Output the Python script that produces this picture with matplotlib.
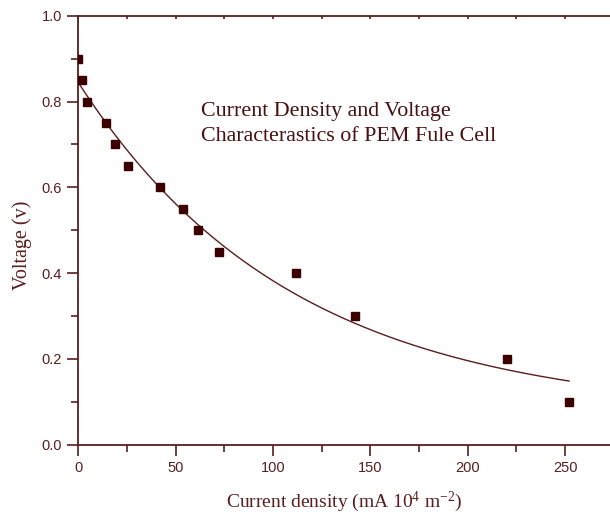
import numpy as np
import matplotlib.pyplot as plt
from matplotlib.ticker import MultipleLocator

plt.rcParams["mathtext.fontset"] = "custom"
plt.rcParams["mathtext.rm"] = "Liberation Serif"
plt.rcParams["mathtext.it"] = "Liberation Serif:italic"

# Measured points (current density, voltage)
current = [0, 2, 4.4, 14.4, 18.8, 25.7, 41.8, 53.8, 61.6, 72.2, 112, 142, 220, 252]
voltage = [0.9, 0.85, 0.8, 0.75, 0.7, 0.65, 0.6, 0.55, 0.5, 0.45, 0.4, 0.3, 0.2, 0.1]

# Exponential decay fit y = y0 + A*exp(-x/t)
fit_y0 = 0.07
fit_A = 0.775
fit_t = 110.0

axis_col = "#5a1e1e"
mark_col = "#3d0000"

fig = plt.figure(figsize=(6.1, 5.15), dpi=100)
ax = fig.add_axes([0.128, 0.1365, 0.872, 0.833])

xf = np.linspace(0, max(current), 200)
ax.plot(xf, fit_y0 + fit_A * np.exp(-xf / fit_t), "-", color=axis_col, lw=1.0)
ax.plot(current, voltage, "s", color=mark_col, markersize=6.3, zorder=3)

ax.set_xlim(0, 273)
ax.set_ylim(0, 1.0)
ax.xaxis.set_major_locator(MultipleLocator(50))
ax.xaxis.set_minor_locator(MultipleLocator(25))
ax.yaxis.set_major_locator(MultipleLocator(0.2))
ax.yaxis.set_minor_locator(MultipleLocator(0.1))
ax.yaxis.set_major_formatter(plt.FuncFormatter(lambda v, p: f"{v:.1f}"))

for s in ["left", "bottom", "top"]:
    ax.spines[s].set_color(axis_col)
    ax.spines[s].set_linewidth(1.3)
ax.spines["right"].set_visible(False)

ax.tick_params(which="both", direction="out", color=axis_col, width=1.2,
               labelcolor=axis_col, labelsize=10.5)
ax.tick_params(which="major", length=8)
ax.tick_params(which="minor", length=5)
ax.tick_params(axis="x", which="both", top=True)
for tl in ax.xaxis.get_ticklines(minor=False)[1::2] + ax.xaxis.get_ticklines(minor=True)[1::2]:
    tl.set_markersize(2)
    tl.set_marker(3)
for t in ax.get_xticklabels() + ax.get_yticklabels():
    t.set_family("Liberation Sans")

ax.set_xlabel("Current density (mA 10$^{4}$ m$^{\\mathregular{-2}}$)", family="Liberation Serif",
              fontsize=14, color=axis_col)
ax.set_ylabel("Voltage (v)", family="Liberation Serif", fontsize=14.5, color=axis_col)
ax.xaxis.label.set(va="center", ha="center")
ax.yaxis.label.set(va="center", ha="center")
ax.xaxis.set_label_coords(0.5, -0.133)
ax.yaxis.set_label_coords(-0.105, 0.465)

ax.text(63, 0.80, "Current Density and Voltage\nCharacterastics of PEM Fule Cell",
        family="Liberation Serif", fontsize=15.8, color="#4a0f0f", va="top",
        linespacing=1.45)

fig.savefig("out.png", dpi=100)
